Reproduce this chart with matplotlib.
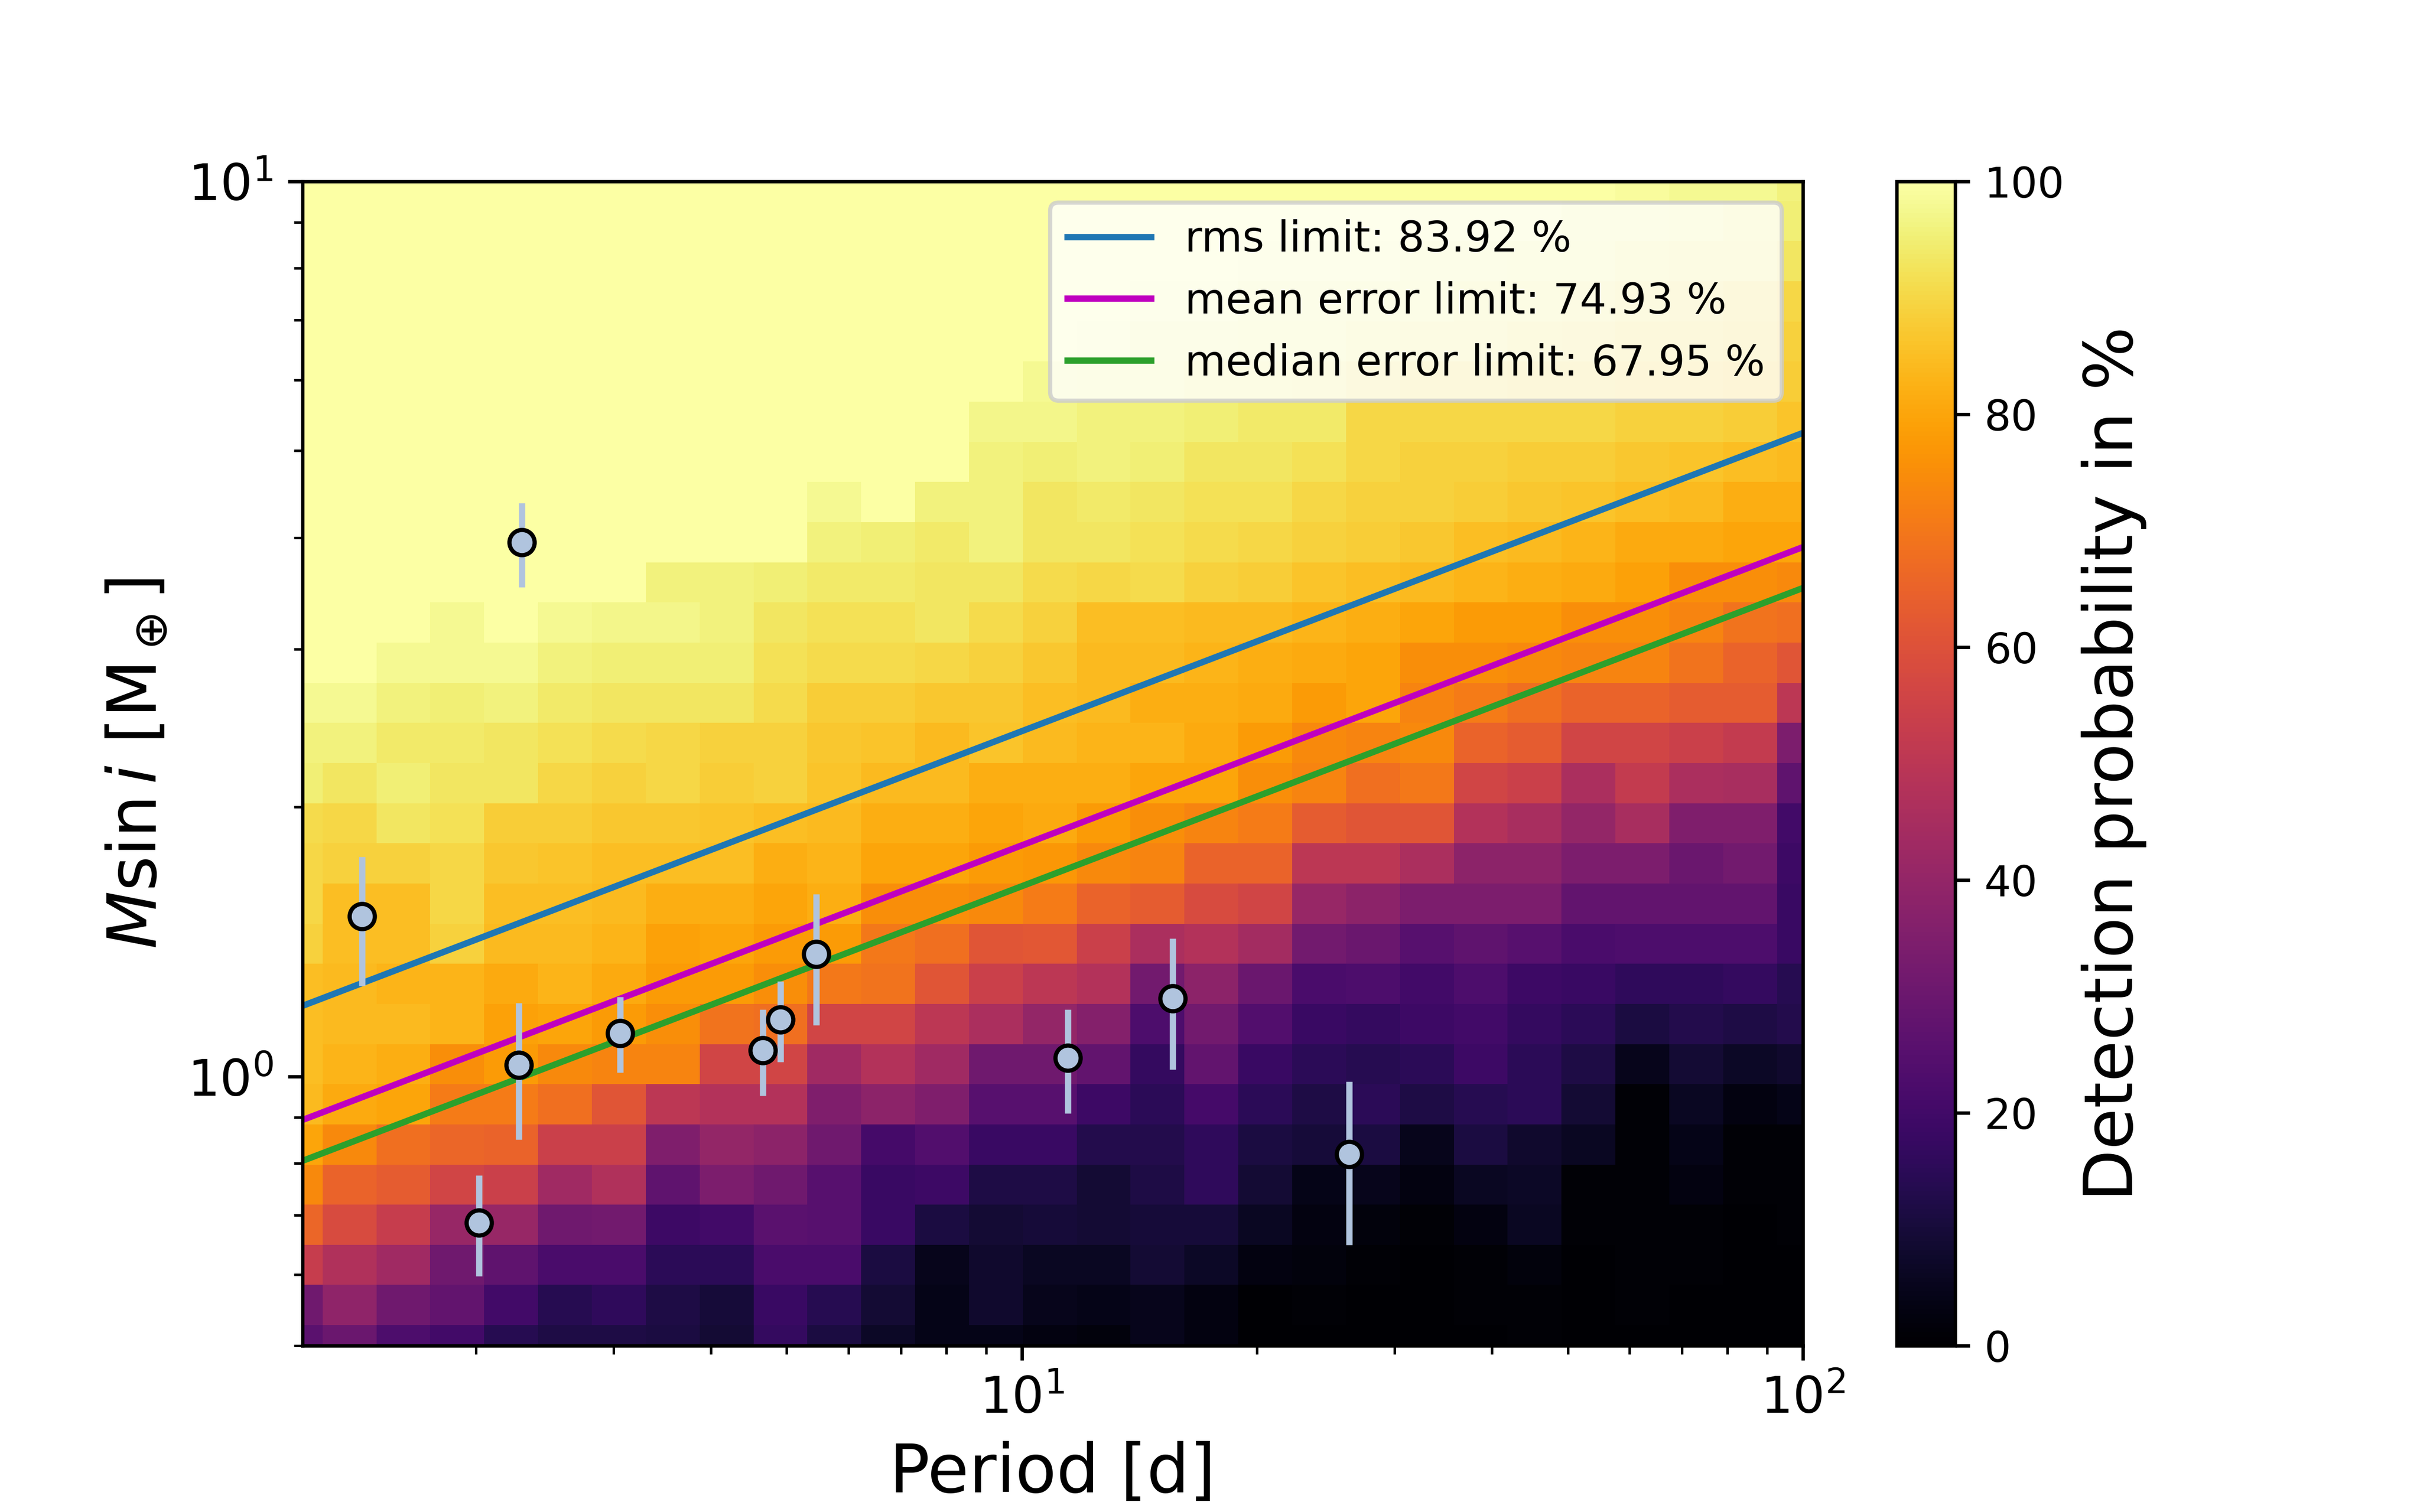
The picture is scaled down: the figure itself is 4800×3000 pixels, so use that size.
import numpy as np
import matplotlib.pyplot as plt

# grid centres of the injection-recovery map
period_grid = np.logspace(0, 2, 30)
mass_grid = np.logspace(np.log10(0.5), 1, 30)

# detection probability in %, rows from the top mass bin (10 M_earth) down to 0.5 M_earth,
# columns from P = 1 d to P = 100 d
detection_top_down = [
    [100, 100, 100, 100, 100, 100, 100, 100, 100, 100, 100, 100, 100, 100, 100, 100, 100, 100, 100, 100, 100, 100, 100, 100, 100, 100, 99, 98, 98, 96],
    [100, 100, 100, 100, 100, 100, 100, 100, 100, 100, 100, 100, 100, 100, 100, 100, 100, 100, 100, 100, 100, 100, 99, 99, 99, 98, 98, 97, 96, 95],
    [100, 100, 100, 100, 100, 100, 100, 100, 100, 100, 100, 100, 100, 100, 100, 100, 100, 100, 100, 99, 99, 99, 98, 98, 97, 97, 96, 95, 95, 93],
    [100, 100, 100, 100, 100, 100, 100, 100, 100, 100, 100, 100, 100, 100, 100, 100, 100, 99, 99, 98, 98, 97, 97, 96, 96, 95, 94, 93, 92, 90],
    [100, 100, 100, 100, 100, 100, 100, 100, 100, 100, 100, 100, 100, 100, 100, 100, 99, 98, 98, 97, 97, 96, 95, 95, 94, 93, 92, 92, 91, 89],
    [100, 100, 100, 100, 100, 100, 100, 100, 100, 100, 100, 100, 100, 100, 100, 98, 97, 97, 96, 96, 95, 93, 92, 92, 91, 91, 90, 90, 89, 88],
    [100, 100, 100, 100, 100, 100, 100, 100, 100, 100, 100, 100, 100, 100, 97, 97, 96, 96, 95, 94, 94, 90, 90, 90, 90, 90, 89, 89, 88, 86],
    [100, 100, 100, 100, 100, 100, 100, 100, 100, 100, 100, 100, 100, 100, 96, 95, 96, 95, 93, 93, 92, 90, 89, 89, 88, 88, 87, 86, 85, 84],
    [100, 100, 100, 100, 100, 100, 100, 100, 100, 100, 100, 98, 100, 96, 96, 93, 94, 93, 92, 92, 90, 89, 89, 88, 87, 86, 85, 84, 82, 82],
    [100, 100, 100, 100, 100, 100, 100, 100, 100, 100, 100, 96, 95, 94, 96, 93, 93, 92, 91, 90, 89, 88, 87, 85, 84, 83, 81, 81, 80, 80],
    [100, 100, 100, 100, 100, 100, 100, 100, 96, 96, 95, 94, 94, 93, 93, 91, 90, 91, 89, 88, 86, 85, 84, 83, 82, 81, 79, 75, 75, 74],
    [100, 100, 100, 100, 98, 100, 98, 97, 97, 96, 93, 92, 92, 93, 91, 89, 85, 85, 84, 84, 83, 82, 80, 78, 78, 75, 75, 73, 69, 68],
    [100, 100, 100, 98, 98, 98, 96, 95, 95, 95, 92, 91, 91, 90, 89, 87, 84, 84, 83, 82, 81, 80, 75, 75, 74, 73, 73, 69, 65, 61],
    [98, 98, 98, 96, 95, 96, 94, 93, 93, 93, 91, 88, 88, 87, 87, 85, 84, 82, 82, 81, 78, 80, 73, 71, 68, 65, 65, 63, 63, 50],
    [97, 96, 96, 94, 94, 93, 92, 91, 90, 89, 89, 87, 86, 84, 86, 84, 83, 83, 81, 78, 74, 73, 74, 65, 63, 56, 56, 54, 52, 34],
    [96, 95, 93, 95, 93, 93, 90, 89, 90, 88, 89, 86, 84, 84, 82, 82, 82, 80, 80, 75, 73, 68, 70, 56, 54, 46, 52, 46, 45, 27],
    [92, 91, 90, 93, 92, 88, 88, 87, 87, 86, 85, 84, 82, 82, 80, 81, 78, 75, 73, 71, 63, 61, 61, 48, 45, 40, 45, 35, 35, 20],
    [91, 90, 89, 89, 90, 87, 86, 85, 85, 85, 82, 83, 80, 80, 78, 77, 74, 73, 65, 65, 50, 50, 46, 38, 38, 34, 34, 30, 32, 19],
    [90, 90, 85, 85, 90, 85, 85, 84, 82, 82, 80, 82, 75, 75, 74, 71, 65, 63, 58, 56, 41, 38, 34, 34, 34, 28, 28, 28, 28, 18],
    [90, 89, 85, 85, 89, 84, 84, 83, 79, 80, 78, 78, 70, 68, 61, 62, 54, 46, 48, 44, 32, 30, 25, 27, 25, 22, 23, 23, 23, 18],
    [86, 85, 84, 83, 83, 81, 83, 81, 78, 78, 75, 70, 69, 61, 54, 50, 48, 32, 38, 30, 22, 23, 20, 23, 19, 18, 16, 16, 17, 14],
    [86, 85, 84, 84, 83, 79, 80, 78, 75, 69, 68, 56, 56, 50, 46, 40, 36, 23, 32, 24, 18, 17, 19, 20, 17, 15, 11, 13, 12, 13],
    [86, 85, 83, 82, 75, 78, 74, 73, 73, 56, 56, 43, 48, 43, 31, 31, 28, 17, 28, 18, 15, 14, 15, 19, 15, 12, 5, 9, 7, 8],
    [85, 84, 81, 80, 71, 71, 68, 61, 50, 48, 48, 35, 38, 35, 25, 25, 19, 15, 21, 15, 12, 15, 12, 14, 15, 9, 1, 6, 3, 4],
    [82, 80, 74, 68, 66, 65, 54, 54, 35, 40, 38, 31, 21, 24, 18, 18, 13, 13, 16, 11, 10, 11, 5, 11, 8, 6, 1, 4, 1, 1],
    [76, 74, 65, 63, 56, 54, 43, 47, 27, 34, 31, 25, 18, 19, 12, 12, 9, 12, 16, 9, 4, 5, 3, 6, 7, 1, 1, 3, 1, 1],
    [68, 66, 58, 53, 41, 41, 31, 32, 19, 20, 26, 25, 18, 11, 9, 10, 9, 10, 10, 6, 3, 2, 1, 3, 6, 1, 1, 1, 0, 1],
    [55, 53, 47, 43, 31, 27, 22, 22, 15, 15, 22, 22, 11, 5, 8, 6, 6, 9, 7, 3, 2, 1, 0, 1, 2, 0, 1, 1, 0, 0],
    [33, 31, 39, 31, 28, 20, 14, 16, 12, 10, 18, 14, 9, 4, 8, 5, 4, 5, 3, 0, 1, 0, 0, 1, 1, 0, 1, 0, 0, 0],
    [28, 26, 30, 23, 20, 14, 12, 12, 11, 9, 17, 11, 7, 4, 4, 3, 2, 5, 3, 0, 0, 0, 0, 0, 1, 0, 0, 0, 0, 0],
]
detection = np.array(detection_top_down[::-1])

# detection limits, M sin i at P = 1 d and P = 100 d
limit_period = [1.0, 100.0]
rms_mass = [1.128, 5.236]
mean_mass = [0.841, 3.903]
median_mass = [0.757, 3.513]

# known planets
planet_period = [1.43, 2.27, 2.02, 3.06, 4.66, 4.91, 5.46, 11.46, 15.61, 26.24, 2.29]
planet_mass = [1.51, 1.03, 0.686, 1.117, 1.069, 1.157, 1.37, 1.048, 1.222, 0.818, 3.95]
planet_mass_hi = [1.758, 1.208, 0.775, 1.226, 1.187, 1.277, 1.599, 1.187, 1.425, 0.987, 4.37]
planet_mass_lo = [1.262, 0.850, 0.598, 1.010, 0.951, 1.038, 1.141, 0.909, 1.018, 0.648, 3.52]

yerr = [np.array(planet_mass) - np.array(planet_mass_lo),
        np.array(planet_mass_hi) - np.array(planet_mass)]

fig, ax = plt.subplots(figsize=(8, 5), dpi=600)

mesh = ax.pcolormesh(period_grid, mass_grid, detection, cmap='inferno',
                     vmin=0, vmax=100, shading='nearest')

ax.plot(limit_period, rms_mass, color='C0', label='rms limit: 83.92 %')
ax.plot(limit_period, mean_mass, color='m', label='mean error limit: 74.93 %')
ax.plot(limit_period, median_mass, color='C2', label='median error limit: 67.95 %')

ax.errorbar(planet_period, planet_mass, yerr=yerr, fmt='o', color='lightsteelblue',
            mfc='lightsteelblue', mec='k', ms=6, mew=1.0, zorder=5)

ax.set_xscale('log')
ax.set_yscale('log')
ax.set_xlim(1.2, 100)
ax.set_ylim(0.5, 10)
ax.set_xlabel('Period [d]', fontsize=16)
ax.set_ylabel(r'$M \sin i$ [M$_\oplus$]', fontsize=16)
ax.tick_params(labelsize=12)
ax.legend(loc='upper right')

cbar = fig.colorbar(mesh, ax=ax)
cbar.set_label('Detection probability in %', fontsize=16)

fig.savefig('out.png', dpi=600)
